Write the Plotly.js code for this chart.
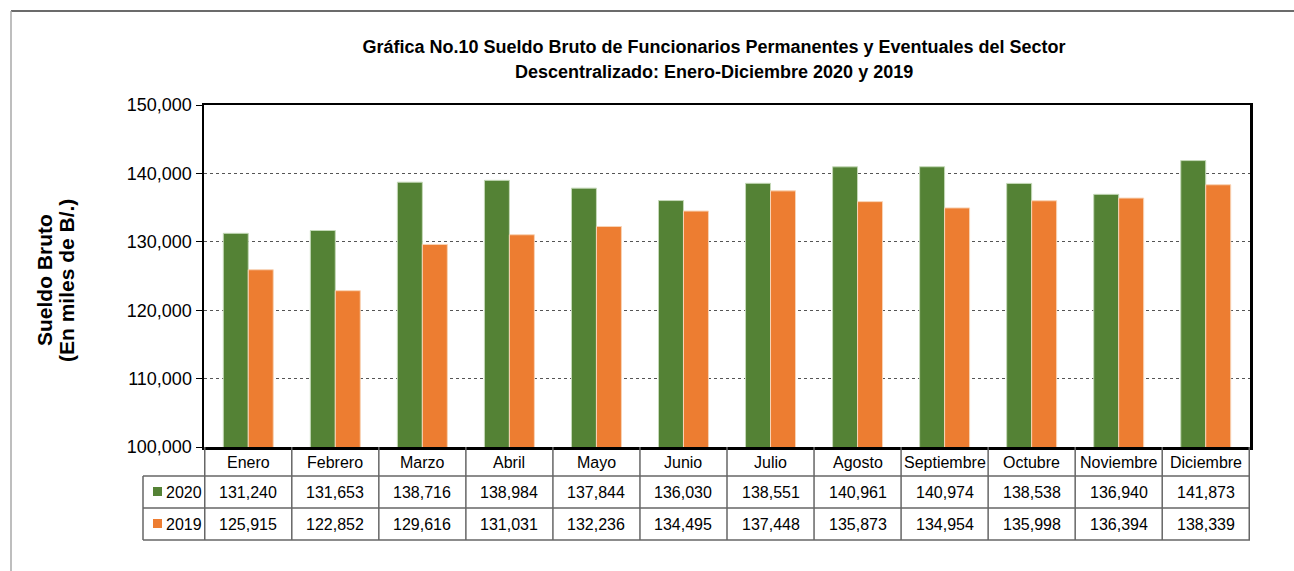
<!DOCTYPE html>
<html>
<head>
<meta charset="utf-8">
<script src="https://cdn.plot.ly/plotly-3.0.1.min.js"></script>
<style>
  html, body { margin: 0; padding: 0; background: #fff; }
  #plot { width: 1294px; height: 571px; }
</style>
</head>
<body>
<div id="plot"></div>
<script>
// Monthly gross salary, thousands of B/.
const meses = ['Enero', 'Febrero', 'Marzo', 'Abril', 'Mayo', 'Junio', 'Julio',
               'Agosto', 'Septiembre', 'Octubre', 'Noviembre', 'Diciembre'];
const sueldo2020 = [131240, 131653, 138716, 138984, 137844, 136030, 138551,
                    140961, 140974, 138538, 136940, 141873];
const sueldo2019 = [125915, 122852, 129616, 131031, 132236, 134495, 137448,
                    135873, 134954, 135998, 136394, 138339];
const yTicks = [100000, 110000, 120000, 130000, 140000, 150000];

const W = 1294, H = 571;
const px = x => x / W;          // pixel -> paper
const py = y => 1 - y / H;

const GREEN = '#548235';
const ORANGE = '#ED7D31';
const FONT = 'Liberation Sans, Arial, sans-serif';

// plot frame in pixels
const plotL = 204, plotR = 1250, plotT = 105, plotB = 447;
// table rows
const row1 = 476, row2 = 508, row3 = 540, legL = 143;

let trace2020 = {
    type: 'bar', x: meses, y: sueldo2020, name: '2020',
    marker: { color: GREEN, line: { color: '#c5d9b8', width: 1 } }
};
let trace2019 = {
    type: 'bar', x: meses, y: sueldo2019, name: '2019',
    marker: { color: ORANGE, line: { color: '#f8d3b5', width: 1 } }
};

const fmt = v => v.toLocaleString('en-US');
const tableLine = { color: '#666', width: 1.5 };

let shapes = [
    // outer chart border (top + left only visible)
    { type: 'line', xref: 'paper', yref: 'paper', x0: px(11), x1: 1.01, y0: py(11), y1: py(11),
      line: { color: '#3a3a3a', width: 1.5 } },
    { type: 'line', xref: 'paper', yref: 'paper', x0: px(11), x1: px(11), y0: py(11), y1: -0.01,
      line: { color: '#a8a8a8', width: 1.5 } },
    // table horizontal lines
    { type: 'line', xref: 'paper', yref: 'paper', x0: px(legL), x1: px(plotR), y0: py(row1), y1: py(row1), line: tableLine },
    { type: 'line', xref: 'paper', yref: 'paper', x0: px(legL), x1: px(plotR), y0: py(row2), y1: py(row2), line: tableLine },
    { type: 'line', xref: 'paper', yref: 'paper', x0: px(legL), x1: px(plotR), y0: py(row3), y1: py(row3), line: tableLine },
    // legend column left edge
    { type: 'line', xref: 'paper', yref: 'paper', x0: px(legL), x1: px(legL), y0: py(row1), y1: py(row3), line: tableLine },
    // legend keys
    { type: 'rect', xref: 'paper', yref: 'paper', x0: px(153), x1: px(162), y0: py(487), y1: py(496),
      fillcolor: GREEN, line: { width: 0 } },
    { type: 'rect', xref: 'paper', yref: 'paper', x0: px(153), x1: px(162), y0: py(519), y1: py(528),
      fillcolor: ORANGE, line: { width: 0 } }
];
// column separators, placed on the category scale
for (let i = 0; i <= meses.length; i++) {
    shapes.push({ type: 'line', xref: 'x', yref: 'paper', x0: i - 0.5, x1: i - 0.5,
                  y0: py(plotB), y1: py(row3), line: tableLine });
}

const cell = (x, y, text, xref, xanchor) => ({
    xref: xref || 'x', yref: 'paper', x: x, y: py(y), text: text,
    xanchor: xanchor || 'center', yanchor: 'middle', showarrow: false,
    font: { family: FONT, size: 16, color: '#000' }
});

let annotations = [];
meses.forEach((m, i) => {
    annotations.push(cell(m, (plotB + row1) / 2 + 1, m));
    annotations.push(cell(m, (row1 + row2) / 2, fmt(sueldo2020[i])));
    annotations.push(cell(m, (row2 + row3) / 2, fmt(sueldo2019[i])));
});
annotations.push(cell(px(164), (row1 + row2) / 2, trace2020.name, 'paper', 'left'));
annotations.push(cell(px(164), (row2 + row3) / 2, trace2019.name, 'paper', 'left'));

// second title line and y axis title (two rotated lines)
const boldFont = { family: FONT, size: 18, color: '#000' };
annotations.push({ xref: 'paper', yref: 'paper', x: px(714), y: py(72), xanchor: 'center', yanchor: 'middle',
                   text: '<b>Descentralizado: Enero-Diciembre 2020 y 2019</b>', showarrow: false, font: boldFont });
annotations.push({ xref: 'paper', yref: 'paper', x: px(45), y: py(280), xanchor: 'center', yanchor: 'middle',
                   textangle: -90, text: '<b>Sueldo Bruto</b>', showarrow: false,
                   font: { family: FONT, size: 21, color: '#000' } });
annotations.push({ xref: 'paper', yref: 'paper', x: px(66), y: py(281), xanchor: 'center', yanchor: 'middle',
                   textangle: -90, text: '<b>(En miles de B/.)</b>', showarrow: false,
                   font: { family: FONT, size: 21, color: '#000' } });

let layout = {
    width: W, height: H,
    margin: { l: 0, r: 0, t: 0, b: 0 },
    paper_bgcolor: '#fff', plot_bgcolor: '#fff',
    title: {
        text: '<b>Gráfica No.10 Sueldo Bruto de Funcionarios Permanentes y Eventuales del Sector</b>',
        x: px(714), xanchor: 'center', y: py(47), yanchor: 'middle',
        font: boldFont
    },
    showlegend: false,
    barmode: 'group', bargap: 0.426, bargroupgap: 0,
    xaxis: {
        domain: [px(plotL), px(plotR)],
        type: 'category', categoryorder: 'array', categoryarray: meses,
        showticklabels: false, ticks: '',
        showline: true, linecolor: '#000', linewidth: 2.5, mirror: true,
        showgrid: false, zeroline: false, fixedrange: true
    },
    yaxis: {
        domain: [py(plotB), py(plotT)],
        range: [100000, 150000],
        tickvals: yTicks, tickformat: ',d',
        ticks: 'outside', ticklen: 6, tickcolor: '#000', tickwidth: 1,
        tickfont: { family: FONT, size: 18, color: '#000' },
        showline: true, linecolor: '#000', linewidth: 2.5, mirror: true,
        showgrid: true, gridcolor: '#555', gridwidth: 1, griddash: 'dot',
        zeroline: false, fixedrange: true
    },
    shapes: shapes,
    annotations: annotations
};

Plotly.newPlot('plot', [trace2020, trace2019], layout, { displayModeBar: false, staticPlot: true });
</script>
</body>
</html>
